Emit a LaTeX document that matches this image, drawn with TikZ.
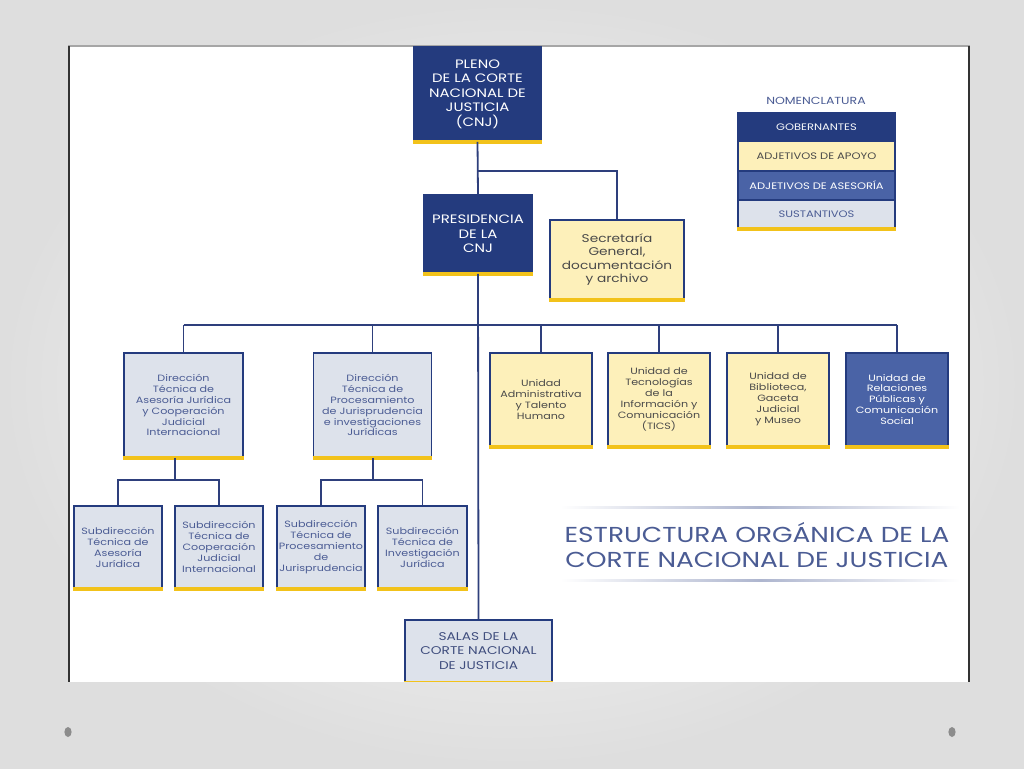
\documentclass[tikz,border=0pt]{standalone}
\usepackage{fontspec}
\setmainfont{Poppins}[FakeStretch=1.22]
\usepackage{tikz}
\usetikzlibrary{positioning, calc}
\definecolor{cnjnavy}{HTML}{243B7E}
\definecolor{cnjmid}{HTML}{4A63A6}
\definecolor{cnjyellow}{HTML}{FDF0BA}
\definecolor{cnjgray}{HTML}{DDE2EB}
\definecolor{cnjgold}{HTML}{F2C21A}
\definecolor{cnjline}{HTML}{2E3F7C}
\definecolor{cnjtext}{HTML}{4B5C94}
\definecolor{cnjdark}{HTML}{4A4A4A}
\newcommand{\pxu}{0.25mm}

\begin{document}
\begin{tikzpicture}[x=0.25mm, y=-0.25mm,
    unit/.style={draw=cnjnavy, line width=0.45mm, inner sep=0pt, align=center,
                 append after command={\pgfextra{\let\cnjbox\tikzlastnode}
                   (\cnjbox.south west) edge[draw=cnjgold, line width=0.8mm] (\cnjbox.south east)}},
    gob/.style={unit, fill=cnjnavy, text=white},
    apoyo/.style={unit, fill=cnjyellow, text=cnjdark},
    asesoria/.style={unit, fill=cnjmid, text=white},
    sust/.style={unit, fill=cnjgray, text=cnjtext},
    big/.style={font=\fontsize{8.7}{10.3}\selectfont},
    small/.style={font=\fontsize{6.5}{7.8}\selectfont},
    legend/.style={minimum width=157*\pxu, font=\fontsize{6.7}{7.5}\selectfont},
    link/.style={draw=cnjline, line width=0.45mm},
]
\useasboundingbox (0,0) rectangle (1024,768);
% slide background and sheet
\shade[inner color=white, outer color=black!13] (0,0) rectangle (1024,768);
\fill[white] (68,46) rectangle (970,682);
\draw[black!35, line width=0.5mm] (68,46) -- (970,46);
\draw[black!80, line width=0.7mm] (69,46) -- (69,682);
\draw[black!80, line width=0.7mm] (969,46) -- (969,682);
\fill[black!45] (68,732) ellipse (0.9mm and 1.25mm);
\fill[black!45] (952,732) ellipse (0.9mm and 1.25mm);

% top levels
\node[gob, big, minimum width=127*\pxu, minimum height=94*\pxu] (pleno) at (477.5,94)
    {PLENO\\DE LA CORTE\\NACIONAL DE\\JUSTICIA\\(CNJ)};
\node[gob, big, minimum width=108*\pxu, minimum height=78*\pxu] (pres) at (478,234)
    {PRESIDENCIA\\DE LA\\CNJ};
\node[apoyo, font=\fontsize{8}{9.4}\selectfont, minimum width=134*\pxu, minimum height=79*\pxu] (secr) at (617,259.5)
    {Secretaría\\General,\\documentación\\y archivo};

% second level
\node[sust, small, minimum width=119*\pxu, minimum height=104*\pxu] (dir1) at (183.5,405)
    {Dirección\\Técnica de\\Asesoría Jurídica\\y Cooperación\\Judicial\\Internacional};
\node[sust, small, minimum width=118*\pxu, minimum height=104*\pxu] (dir2) at (372.5,405)
    {Dirección\\Técnica de\\Procesamiento\\de Jurisprudencia\\e investigaciones\\Jurídicas};
\node[apoyo, small, minimum width=102*\pxu, minimum height=93*\pxu] (u1) at (541,399.5)
    {Unidad\\Administrativa\\y Talento\\Humano};
\node[apoyo, small, minimum width=102*\pxu, minimum height=93*\pxu] (u2) at (659,399.5)
    {Unidad de\\Tecnologías\\de la\\Información y\\Comunicación\\(TICS)};
\node[apoyo, small, minimum width=102*\pxu, minimum height=93*\pxu] (u3) at (778,399.5)
    {Unidad de\\Biblioteca,\\Gaceta\\Judicial\\y Museo};
\node[asesoria, small, minimum width=102*\pxu, minimum height=93*\pxu] (u4) at (897,399.5)
    {Unidad de\\Relaciones\\Públicas y\\Comunicación\\Social};

% third level
\node[sust, small, minimum width=88*\pxu, minimum height=82*\pxu] (sub1) at (118,547)
    {Subdirección\\Técnica de\\Asesoría\\Jurídica};
\node[sust, small, minimum width=88*\pxu, minimum height=82*\pxu] (sub2) at (219,547)
    {Subdirección\\Técnica de\\Cooperación\\Judicial\\Internacional};
\node[sust, small, minimum width=88*\pxu, minimum height=82*\pxu] (sub3) at (321,547)
    {Subdirección\\Técnica de\\Procesamiento\\de\\Jurisprudencia};
\node[sust, small, minimum width=89*\pxu, minimum height=82*\pxu] (sub4) at (422.5,547)
    {Subdirección\\Técnica de\\Investigación\\Jurídica};

% salas, cut by the sheet edge
\begin{scope}
\clip (60,0) rectangle (980,681);
\node[sust, font=\fontsize{8}{10.6}\selectfont, text=cnjtext!85!black, minimum width=147*\pxu, minimum height=62*\pxu] (salas) at (478.5,651)
    {SALAS DE LA\\CORTE NACIONAL\\DE JUSTICIA};
\end{scope}

% connectors
\coordinate (jtop) at (478,171);
\coordinate (jmid) at (478,325);
\coordinate (jd1) at (175,480);
\coordinate (jd2) at (373,480);
\draw[link] (pleno.south) -- (pres.north);
\draw[link] (jtop) -| (secr.north);
\draw[link] (pres.south) -- (salas.north);
\draw[link] (jmid -| dir1.north) -- (jmid -| u4.north);
\foreach \n in {dir1,dir2,u1,u2,u3,u4}
    \draw[link] (jmid -| \n.north) -- (\n.north);
\draw[link] (dir1.south -| jd1) -- (jd1);
\draw[link] (sub1.north) |- (jd1) -| (sub2.north);
\draw[link] (dir2.south -| jd2) -- (jd2);
\draw[link] (sub3.north) |- (jd2) -| (sub4.north);

% nomenclature
\node[font=\fontsize{7.3}{8}\selectfont, text=cnjtext] (legtitle) at (816,101) {NOMENCLATURA};
\node[gob, legend, text=white!85!cnjgray, minimum height=28*\pxu] (lgob) at (816.5,127) {GOBERNANTES};
\node[apoyo, legend, minimum height=30*\pxu] (lapoyo) at (816.5,156) {ADJETIVOS DE APOYO};
\node[asesoria, legend, minimum height=29*\pxu] (lases) at (816.5,185.5) {ADJETIVOS DE ASESORÍA};
\node[sust, legend, minimum height=28*\pxu] (lsust) at (816.5,214) {SUSTANTIVOS};

% title
\shade[left color=white, right color=white, middle color=cnjtext!45] (560,506.5) rectangle (960,508);
\shade[left color=white, right color=white, middle color=cnjtext!45] (560,579.5) rectangle (960,581);
\node[align=center, text=cnjtext, font=\fontsize{15.4}{17.7}\selectfont] (title) at (757,545)
    {ESTRUCTURA ORGÁNICA DE LA\\CORTE NACIONAL DE JUSTICIA};
\end{tikzpicture}
\end{document}
